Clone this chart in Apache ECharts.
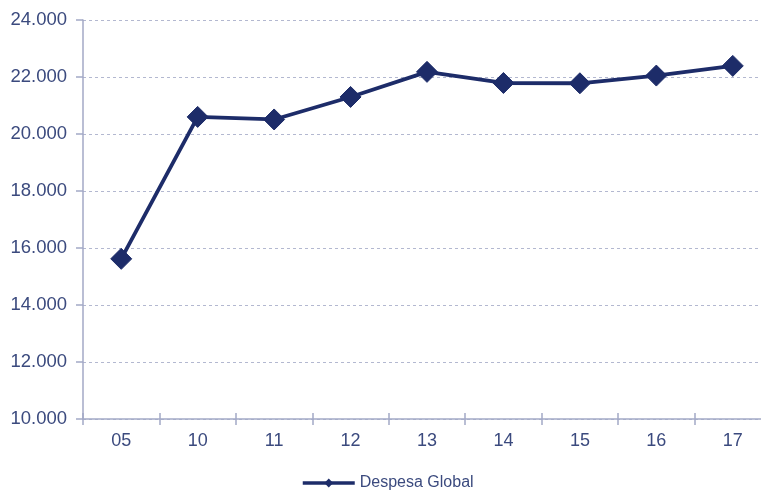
<!DOCTYPE html>
<html>
<head>
<meta charset="utf-8">
<script src="https://cdn.jsdelivr.net/npm/echarts@6/dist/echarts.min.js"></script>
<style>
  html, body { margin: 0; padding: 0; background: #ffffff; }
  #chart { width: 761px; height: 496px; }
</style>
</head>
<body>
<div id="chart"></div>
<script>
// Years shown on the category axis
const years = ['05', '10', '11', '12', '13', '14', '15', '16', '17'];
// Global expenditure per year
const despesaGlobal = [15620, 20600, 20510, 21300, 22180, 21790, 21780, 22050, 22390];
// Value axis range and step
const yMin = 10000;
const yMax = 24000;
const yStep = 2000;

const navy = '#1d2c69';
const axisGrey = '#a3a9c6';
const labelColor = '#3b4a7e';
const font = 'Liberation Sans, Arial, sans-serif';

const fmt = v => {
  const s = String(Math.round(v));
  return s.replace(/\B(?=(\d{3})+(?!\d))/g, '.');
};

const chart = echarts.init(document.getElementById('chart'), null, { renderer: 'canvas' });
chart.setOption({
  animation: false,
  backgroundColor: '#ffffff',
  // plot area runs slightly past the right edge of the canvas
  grid: { left: 83, width: 688, top: 20, bottom: 77, containLabel: false, outerBoundsMode: 'none' },
  legend: {
    data: ['Despesa Global'],
    left: 301,
    top: 475,
    padding: 0,
    itemWidth: 52,
    itemHeight: 11,
    itemGap: 4,
    lineStyle: { width: 3.5 },
    textStyle: { color: labelColor, fontFamily: font, fontSize: 16 }
  },
  xAxis: [{
    type: 'category',
    data: years,
    boundaryGap: true,
    axisLine: { lineStyle: { color: axisGrey, width: 1.5 } },
    axisTick: { show: true, length: 6, inside: false, lineStyle: { color: axisGrey, width: 1.5 } },
    axisLabel: { color: labelColor, fontFamily: font, fontSize: 18, margin: 13 },
    splitLine: { show: false }
  }, {
    // second copy of the category axis drawn only for the inward half of the ticks
    type: 'category',
    data: years,
    boundaryGap: true,
    position: 'bottom',
    axisLine: { show: false },
    axisTick: { show: true, length: 6, inside: true, lineStyle: { color: axisGrey, width: 1.5 } },
    axisLabel: { show: false },
    splitLine: { show: false }
  }],
  yAxis: {
    type: 'value',
    min: yMin,
    max: yMax,
    interval: yStep,
    axisLine: { show: true, lineStyle: { color: axisGrey, width: 1.5 } },
    axisTick: { show: true, length: 7, lineStyle: { color: axisGrey, width: 1.5 } },
    axisLabel: { color: labelColor, fontFamily: font, fontSize: 18.5, margin: 16, formatter: fmt },
    splitLine: { show: true, lineStyle: { color: '#b3b8d0', type: [3, 3], width: 1 } }
  },
  series: [{
    name: 'Despesa Global',
    type: 'line',
    data: despesaGlobal,
    symbol: 'diamond',
    symbolSize: 21,
    lineStyle: { color: navy, width: 3.8 },
    itemStyle: { color: navy, borderColor: navy },
    z: 5
  }]
});
</script>
</body>
</html>
